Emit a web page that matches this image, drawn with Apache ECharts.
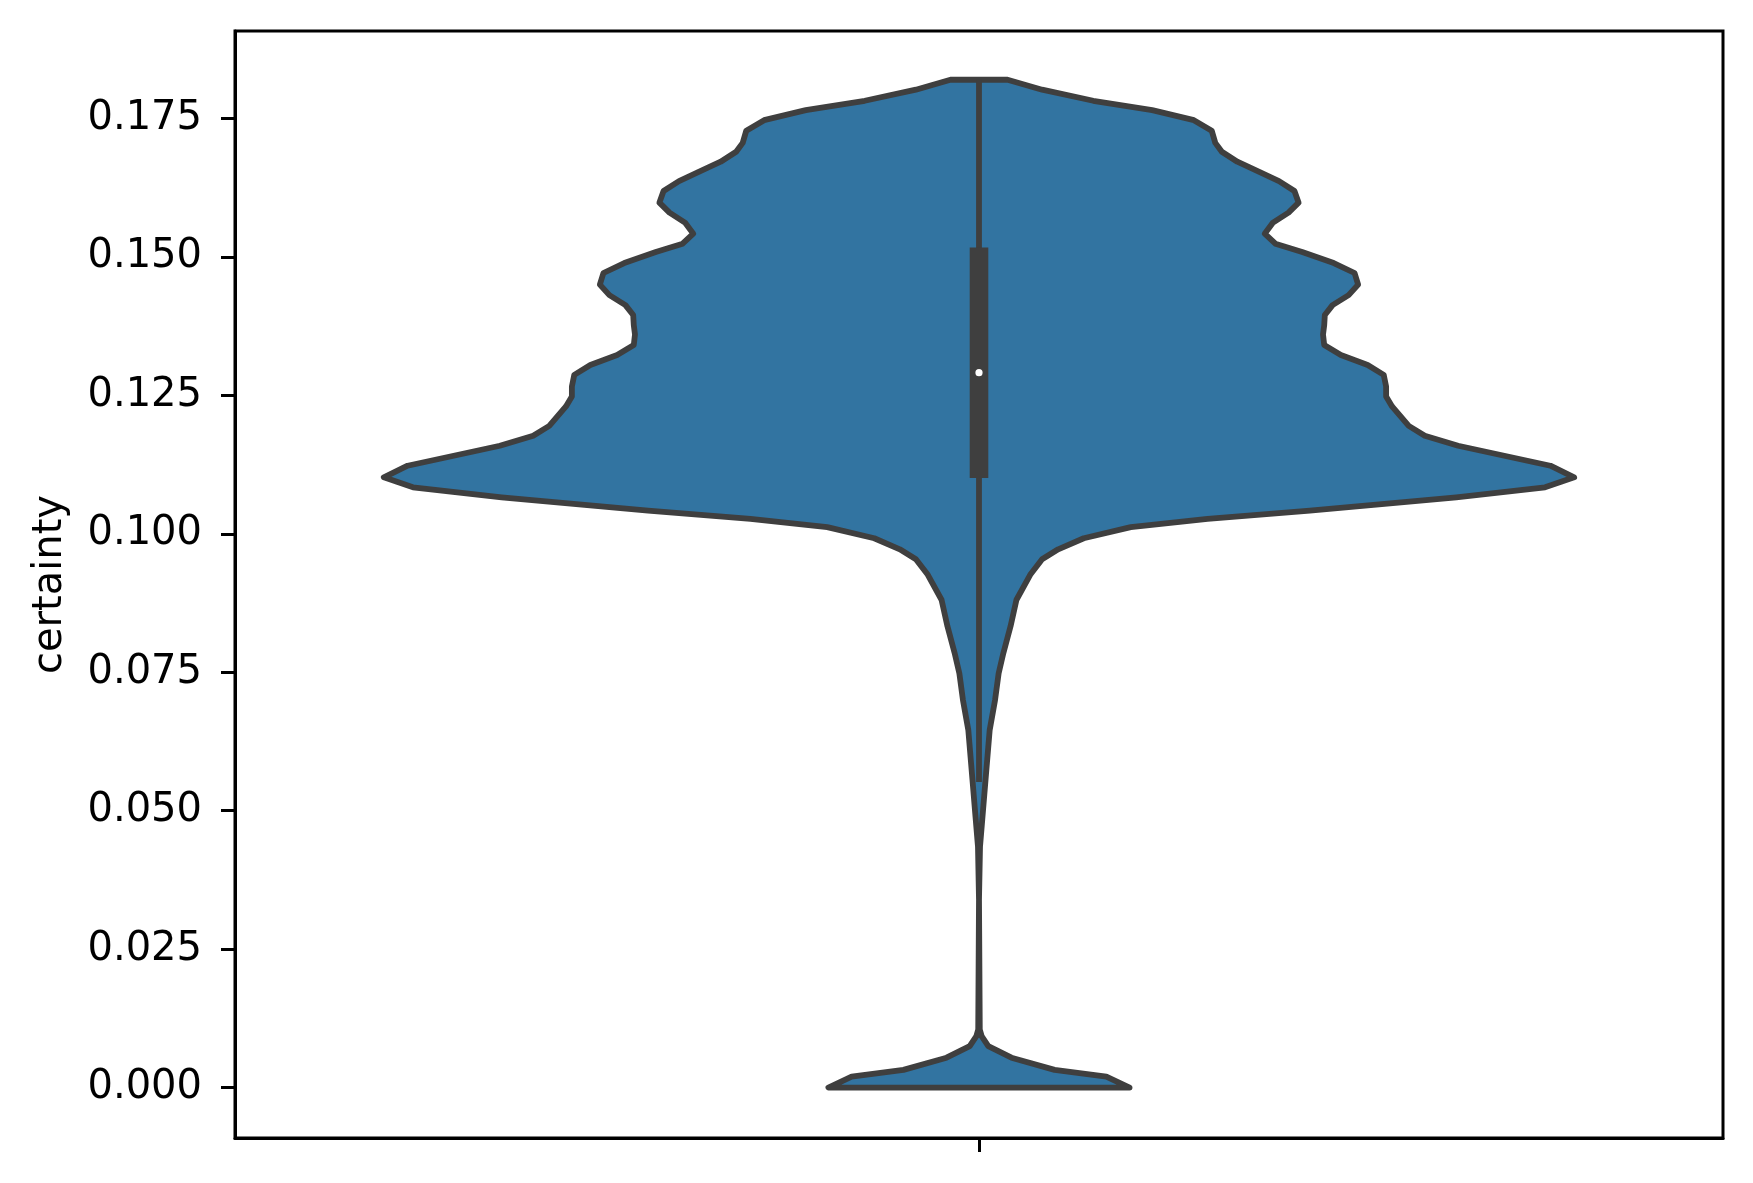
<!DOCTYPE html>
<html lang="en">

<head>
    <meta charset="UTF-8">
    <title>certainty violin</title>
    <style>
        html, body { margin: 0; padding: 0; background: #fff; }
    </style>
</head>

<body>
    <div id="main" style="width: 1753px; height: 1183px"></div>
    <script src="https://cdn.jsdelivr.net/npm/echarts@6.0.0/dist/echarts.min.js"></script>
    <script type="text/javascript">
        // violin outline: certainty level and relative half width (1 = widest)
        var certainty = [0.1820, 0.1802, 0.1782, 0.1765, 0.1747, 0.1728, 0.1706, 0.1690, 0.1672, 0.1654,
            0.1637, 0.1619, 0.1598, 0.1580, 0.1562, 0.1542, 0.1524, 0.1509, 0.1489, 0.1471,
            0.1450, 0.1431, 0.1413, 0.1395, 0.1377, 0.1360, 0.1341, 0.1323, 0.1305, 0.1287,
            0.1266, 0.1248, 0.1230, 0.1195, 0.1177, 0.1159, 0.1123, 0.1102, 0.1084, 0.1066,
            0.1042, 0.1027, 0.1012, 0.0992, 0.0972, 0.0954, 0.0926, 0.0881, 0.0833, 0.0785,
            0.0748, 0.0700, 0.0646, 0.0556, 0.0484, 0.0435, 0.0340, 0.0105, 0.0093, 0.0075,
            0.0054, 0.0032, 0.0020, 0.0000];
        var density = [0.048, 0.106, 0.192, 0.291, 0.361, 0.391, 0.397, 0.408, 0.434, 0.470,
            0.504, 0.530, 0.537, 0.520, 0.494, 0.480, 0.498, 0.543, 0.596, 0.631,
            0.637, 0.621, 0.594, 0.581, 0.580, 0.578, 0.580, 0.608, 0.653, 0.680,
            0.684, 0.684, 0.694, 0.722, 0.749, 0.805, 0.960, 1.000, 0.951, 0.802,
            0.556, 0.384, 0.255, 0.176, 0.133, 0.106, 0.086, 0.063, 0.053, 0.041,
            0.033, 0.027, 0.018, 0.011, 0.0055, 0.0017, 0, 0.0013, 0.0044, 0.0156,
            0.0546, 0.127, 0.214, 0.253];

        // box summary: lower whisker, q1, median, q3, upper whisker
        var boxStats = [0.0552, 0.1101, 0.1291, 0.1517, 0.1820];

        var yTicks = [0, 0.025, 0.05, 0.075, 0.1, 0.125, 0.15, 0.175];

        var HALF = 0.4; // seaborn width 0.8 -> half width in category units

        var myChart = echarts.init(document.getElementById('main'));

        var option = {
            backgroundColor: '#fff',
            animation: false,
            grid: {
                left: 235,
                top: 31,
                width: 1488,
                height: 1107,
                show: true,
                borderColor: '#000',
                borderWidth: 3
            },
            xAxis: {
                type: 'value',
                min: -0.5,
                max: 0.5,
                axisLine: { show: true, onZero: false, lineStyle: { color: '#000', width: 3 } },
                axisTick: { show: true, length: 14, customValues: [0], lineStyle: { color: '#000', width: 3 } },
                axisLabel: { show: false },
                splitLine: { show: false }
            },
            yAxis: {
                type: 'value',
                min: -0.0091,
                max: 0.1908,
                name: 'certainty',
                nameLocation: 'middle',
                nameGap: 164,
                nameRotate: 90,
                nameTextStyle: { fontFamily: 'DejaVu Sans', fontSize: 40, color: '#000' },
                axisLine: { show: true, onZero: false, lineStyle: { color: '#000', width: 3 } },
                axisTick: { show: true, length: 14, customValues: yTicks, lineStyle: { color: '#000', width: 3 } },
                axisLabel: {
                    customValues: yTicks,
                    margin: 33,
                    fontFamily: 'DejaVu Sans',
                    fontSize: 40,
                    color: '#000',
                    formatter: function (v) { return v.toFixed(3); }
                },
                splitLine: { show: false }
            },
            series: [{
                type: 'custom',
                name: 'violin',
                data: [0],
                renderItem: function (params, api) {
                    var left = [];
                    var right = [];
                    for (var i = 0; i < certainty.length; i++) {
                        left.push(api.coord([-density[i] * HALF, certainty[i]]));
                        right.unshift(api.coord([density[i] * HALF, certainty[i]]));
                    }
                    return {
                        type: 'polygon',
                        shape: { points: left.concat(right) },
                        style: { fill: '#3274a1', stroke: '#3f3f3f', lineWidth: 5.8, lineJoin: 'round' }
                    };
                }
            }, {
                type: 'custom',
                name: 'box',
                data: [0],
                z: 3,
                renderItem: function (params, api) {
                    var lo = api.coord([0, boxStats[0]]);
                    var q1 = api.coord([0, boxStats[1]]);
                    var med = api.coord([0, boxStats[2]]);
                    var q3 = api.coord([0, boxStats[3]]);
                    var hi = api.coord([0, boxStats[4]]);
                    return {
                        type: 'group',
                        children: [{
                            type: 'line',
                            shape: { x1: lo[0], y1: lo[1], x2: hi[0], y2: hi[1] },
                            style: { stroke: '#3f3f3f', lineWidth: 5.8 }
                        }, {
                            type: 'rect',
                            shape: { x: q3[0] - 9.3, y: q3[1], width: 18.6, height: q1[1] - q3[1] },
                            style: { fill: '#3f3f3f' }
                        }, {
                            type: 'circle',
                            shape: { cx: med[0], cy: med[1], r: 3.6 },
                            style: { fill: '#fff' }
                        }]
                    };
                }
            }]
        };
        myChart.setOption(option);
    </script>

</body>

</html>
